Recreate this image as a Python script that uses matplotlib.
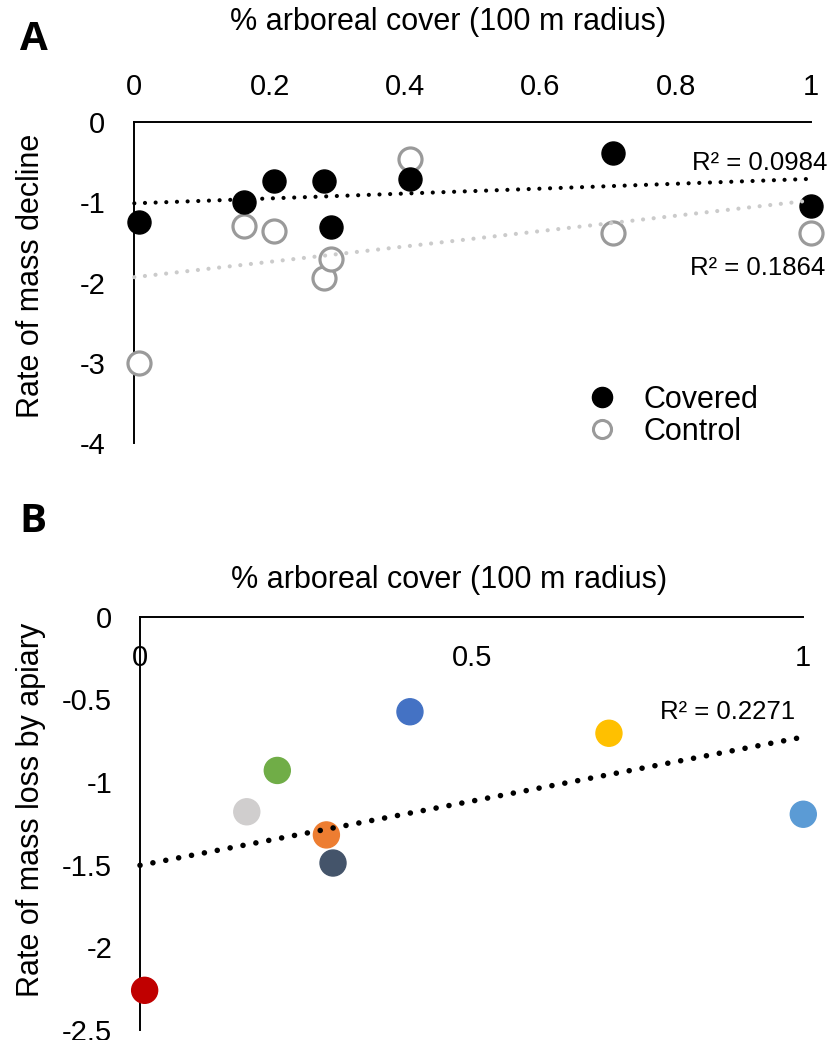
import matplotlib
matplotlib.use("Agg")
import matplotlib.pyplot as plt
import numpy as np
from matplotlib.lines import Line2D
from matplotlib.ticker import FormatStrFormatter

plt.rcParams["font.family"] = ["Liberation Sans", "DejaVu Sans"]
plt.rcParams["axes.unicode_minus"] = False

# panel A: per-hive rate of mass decline vs arboreal cover
cover = [0.007, 0.162, 0.207, 0.281, 0.291, 0.408, 0.708, 1.0]
covered = [-1.24, -1.00, -0.73, -0.73, -1.31, -0.71, -0.38, -1.05]
control = [-3.00, -1.29, -1.36, -1.94, -1.71, -0.46, -1.38, -1.38]
r2_covered = "R² = 0.0984"
r2_control = "R² = 0.1864"

# panel B: mass loss by apiary
apiary_cover = [0.007, 0.161, 0.207, 0.281, 0.291, 0.407, 0.707, 1.0]
apiary_loss = [-2.26, -1.18, -0.93, -1.32, -1.49, -0.575, -0.705, -1.195]
apiary_colors = ["#C00000", "#D0CECE", "#70AD47", "#ED7D31",
                 "#44546A", "#4472C4", "#FFC000", "#5B9BD5"]
r2_apiary = "R² = 0.2271"

xlabel = "% arboreal cover (100 m radius)"

W, H = 830, 1040
fig = plt.figure(figsize=(W / 100, H / 100), dpi=100)


def fx(px):
    return px / W


def fy(py):
    return 1 - py / H


def trend(ax, x, y, color, lw, gap):
    # excel-style dotted linear trendline
    k, b = np.polyfit(x, y, 1)
    xs = np.array([0.0, 1.0])
    ax.plot(xs, k * xs + b, color=color, lw=lw, dashes=(0.01, gap),
            dash_capstyle="round", zorder=5, clip_on=False)


def style_axes(ax):
    for side in ("bottom", "right"):
        ax.spines[side].set_visible(False)
    for side in ("top", "left"):
        ax.spines[side].set_linewidth(1.4)
    ax.tick_params(length=0, labelsize=21)
    ax.xaxis.tick_top()


# ---- panel A
axA = fig.add_axes([fx(134.3), fy(443), fx(811 - 134.3), fy(122.3) - fy(443)])
style_axes(axA)
axA.scatter(cover, control, s=275, facecolor="white", edgecolor="#9A9A9A",
            linewidth=2.3, zorder=3, clip_on=False)
axA.scatter(cover, covered, s=275, color="black", zorder=4, clip_on=False)
trend(axA, cover, covered, "black", 3.0, 2.55)
trend(axA, cover, control, "#CBCBCB", 3.0, 2.55)
axA.set_xlim(0, 1)
axA.set_ylim(-4, 0)
axA.set_xticks(np.arange(0, 1.01, 0.2))
axA.set_yticks(range(-4, 1))
axA.xaxis.set_major_formatter(FormatStrFormatter("%g"))
axA.tick_params(axis="x", pad=15)
axA.tick_params(axis="y", pad=21)

fig.text(fx(827), fy(163), r2_covered, ha="right", va="center", fontsize=18.5)
fig.text(fx(825), fy(268), r2_control, ha="right", va="center", fontsize=18.5)

handles = [
    Line2D([], [], ls="none", marker="o", ms=14.5, color="black"),
    Line2D([], [], ls="none", marker="o", ms=13, mfc="white", mec="#9A9A9A", mew=2.2),
]
fig.legend(handles, ["Covered", "Control"], loc="upper left",
           bbox_to_anchor=(fx(587), fy(385)), frameon=False, fontsize=22,
           handlelength=1.0, handletextpad=0.85, labelspacing=0.05,
           borderpad=0, borderaxespad=0)

fig.text(fx(448), fy(22), xlabel, ha="center", va="center", fontsize=22)
fig.text(fx(31), fy(276), "Rate of mass decline", rotation=90,
         ha="center", va="center", fontsize=22)
fig.text(fx(34), fy(40), "A", ha="center", va="center", fontsize=29,
         fontweight="bold", family=["Open Sans", "DejaVu Sans"])

# ---- panel B
axB = fig.add_axes([fx(140), fy(1030), fx(803.3 - 140), fy(616.7) - fy(1030)])
style_axes(axB)
axB.scatter(apiary_cover, apiary_loss, s=350, c=apiary_colors, zorder=3,
            clip_on=False)
trend(axB, apiary_cover, apiary_loss, "black", 4.0, 2.35)
axB.set_xlim(0, 1)
axB.set_ylim(-2.5, 0)
axB.set_xticks([0, 0.5, 1])
axB.set_yticks(np.arange(-2.5, 0.01, 0.5))
axB.xaxis.set_major_formatter(FormatStrFormatter("%g"))
axB.yaxis.set_major_formatter(FormatStrFormatter("%g"))
axB.tick_params(axis="x", pad=-40)
axB.tick_params(axis="y", pad=20)

fig.text(fx(795), fy(712), r2_apiary, ha="right", va="center", fontsize=18.5)
fig.text(fx(449), fy(580), xlabel, ha="center", va="center", fontsize=22)
fig.text(fx(31), fy(810), "Rate of mass loss by apiary", rotation=90,
         ha="center", va="center", fontsize=22)
fig.text(fx(33), fy(522), "B", ha="center", va="center", fontsize=29,
         fontweight="bold", family=["Open Sans", "DejaVu Sans"])

fig.savefig("out.png", dpi=100)
